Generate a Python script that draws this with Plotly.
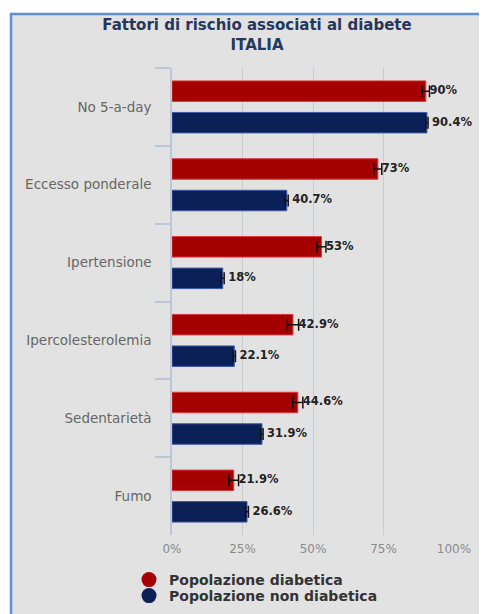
import plotly.graph_objects as go

categories = ["No 5-a-day", "Eccesso ponderale", "Ipertensione",
              "Ipercolesterolemia", "Sedentarietà", "Fumo"]
diabetici = [90, 73, 53, 42.9, 44.6, 21.9]
non_diabetici = [90.4, 40.7, 18, 22.1, 31.9, 26.6]
err_diabetici = [1.3, 1.4, 1.6, 2.0, 1.8, 1.7]
err_non_diabetici = [0.4, 0.5, 0.5, 0.4, 0.4, 0.5]
series_names = ["Popolazione diabetica", "Popolazione non diabetica"]
x_ticks = [0, 25, 50, 75, 100]
x_ticklabels = ["0%", "25%", "50%", "75%", "100%"]
title_lines = ["Fattori di rischio associati al diabete", "ITALIA"]

RED = "#a50000"
BLUE = "#0b2056"
FONT = "DejaVu Sans"

W, H = 487, 614
OFF = 8  # page body margin
# target page positions of the plot area
PL, PR, PT, PB = 172, 454, 68, 535
L, T = PL - OFF, PT - OFF
R, B = W - (PR - OFF), H - (PB - OFF)
PW, PH = W - L - R, H - T - B


def px_to_paper_x(px):
    return (px - OFF - L) / PW


def py_to_paper_y(py):
    return (H - B - (py - OFF)) / PH


fig = go.Figure()

series = [
    (series_names[0], diabetici, err_diabetici, RED, "#d83a3a", "a", ""),
    (series_names[1], non_diabetici, err_non_diabetici, BLUE, "#3a5aa8", "b",
     "\u00a0"),
]

for name, vals, errs, col, lcol, grp, pad in series:
    fig.add_trace(go.Bar(
        name=name, x=vals, y=categories, orientation="h",
        marker=dict(color=col, line=dict(color=lcol, width=1)),
        error_x=dict(type="data", array=errs, visible=True,
                     color="#111111", thickness=1.5, width=6),
        offsetgroup=grp, showlegend=False, hoverinfo="skip",
    ))

for name, vals, errs, col, lcol, grp, pad in series:
    fig.add_trace(go.Scatter(
        x=[v + e for v, e in zip(vals, errs)], y=categories,
        mode="text", orientation="h",
        text=[pad + "{:g}%".format(v) for v in vals],
        textposition="middle right",
        textfont=dict(family=FONT, size=11.5, color="#222222", weight="bold"),
        offsetgroup=grp, showlegend=False, cliponaxis=False, hoverinfo="skip",
    ))

# legend entries (circle markers) on a hidden helper subplot
for i, (name, vals, errs, col, lcol, grp, pad) in enumerate(series):
    fig.add_trace(go.Scatter(
        x=[None], y=[None], mode="markers", name=name,
        marker=dict(color=col, size=15, symbol="circle"),
        xaxis="x2", yaxis="y2", showlegend=True,
        legend="legend" if i == 0 else "legend2",
    ))

legend_common = dict(
    x=px_to_paper_x(129), xanchor="left", xref="paper",
    yanchor="top", yref="paper",
    bgcolor="rgba(0,0,0,0)",
    font=dict(family=FONT, size=14, color="#333333", weight="bold"),
    itemsizing="trace",
)

fig.update_layout(
    width=W, height=H,
    margin=dict(l=L, r=R, t=T, b=B, autoexpand=False),
    paper_bgcolor="white",
    plot_bgcolor="rgba(0,0,0,0)",
    barmode="group", bargap=0.19, bargroupgap=0.35,
    scattermode="group", scattergap=0.19,
    title=dict(
        text="<b>" + "<br>".join(title_lines) + "</b>",
        x=(257 - OFF) / W, xanchor="center", xref="container",
        y=1 - (30 - OFF) / H, yanchor="top", yref="container",
        font=dict(family=FONT, size=15, color="#26375c"),
    ),
    xaxis=dict(
        range=[0, 100], tickvals=x_ticks, ticktext=x_ticklabels,
        showgrid=True, gridcolor="#c5cad6", gridwidth=1,
        zeroline=False, showline=False, ticks="",
        tickfont=dict(family=FONT, size=12, color="#8a8a8a"),
        ticklabelstandoff=5, fixedrange=True,
    ),
    yaxis=dict(
        autorange="reversed", type="category",
        showline=True, linecolor="#bcc6da", linewidth=1.5,
        ticks="outside", tickson="boundaries", ticklen=15,
        tickcolor="#bcc6da", tickwidth=1.5,
        tickfont=dict(family=FONT, size=13.5, color="#666666"),
        ticklabelstandoff=16, showgrid=False, fixedrange=True,
    ),
    xaxis2=dict(domain=[0, 1], anchor="y2", visible=False),
    yaxis2=dict(domain=[0, 1], anchor="x2", visible=False),
    legend=dict(y=py_to_paper_y(564), **legend_common),
    legend2=dict(y=py_to_paper_y(580), **legend_common),
    shapes=[
        dict(type="rect", layer="below", xref="paper", yref="paper",
             xsizemode="pixel", ysizemode="pixel", xanchor=0, yanchor=0,
             x0=11 - OFF - L, x1=W + 20 - L, y0=-(B + 20),
             y1=(H - B - (14 - OFF)),
             fillcolor="#e2e2e2",
             line=dict(color="#5f8fd4", width=2.5)),
    ],
)

fig.write_html("out.html")
